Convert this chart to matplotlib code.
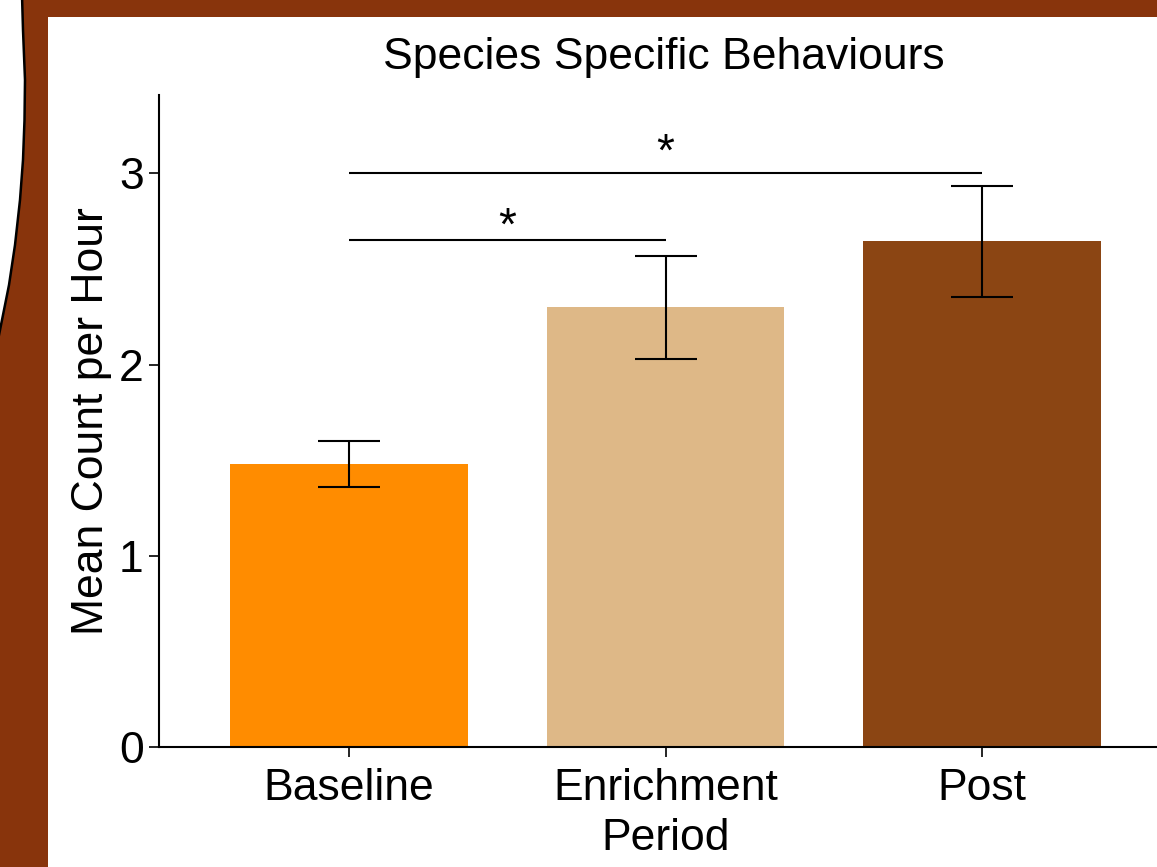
"""Bar chart of species specific behaviours across study periods"""
import matplotlib
matplotlib.use('Agg')
import matplotlib.pyplot as plt
from matplotlib.patches import Rectangle, Polygon
from matplotlib.lines import Line2D

periods = ['Baseline', 'Enrichment\nPeriod', 'Post']
means = [1.48, 2.30, 2.645]
errors = [0.12, 0.27, 0.29]
bar_colors = ['#FF8C00', '#DEB887', '#8B4513']

# significance brackets: (start bar, end bar, line height, star height)
sig_pairs = [(0, 1, 2.65, 2.60), (0, 2, 3.0, 2.99)]

W, H = 1157, 867
FRAME = '#88340c'


def px(x, y):
    """pixel coords (top-left origin) to figure fraction"""
    return x / W, 1 - y / H


def plot():
    plt.rcParams['font.family'] = ['Liberation Sans', 'DejaVu Sans']
    fig = plt.figure(figsize=(W / 100, H / 100), dpi=100, facecolor=FRAME)

    # white panel and the curved cut-out on the far left
    x0, y0 = px(48, 17)
    fig.patches.append(Rectangle((x0, 0), 1 - x0, y0, transform=fig.transFigure,
                                 facecolor='white', edgecolor='none', zorder=-2))
    curve = [(22, -5), (23, 30), (25, 80), (24.5, 120), (23, 160), (20, 200),
             (15, 245), (9, 285), (3, 315), (-2, 340)]
    edge = [px(x, y) for x, y in curve]
    fig.patches.append(Polygon([px(-5, -5)] + edge + [px(-5, 340)], closed=True,
                               transform=fig.transFigure, facecolor='white',
                               edgecolor='none', zorder=-2))
    fig.lines.append(Line2D([p[0] for p in edge], [p[1] for p in edge],
                            transform=fig.transFigure, color='black', lw=1.8,
                            zorder=-1))

    ax = fig.add_axes([159 / W, 120 / H, (1172 - 159) / W, (747 - 95) / H])
    ax.patch.set_visible(False)

    xs = range(len(periods))
    ax.bar(xs, means, width=0.75, color=bar_colors, zorder=2)
    ax.errorbar(xs, means, yerr=errors, fmt='none', ecolor='black',
                elinewidth=1.5, capsize=22.5, capthick=1.5, zorder=3)

    for a, b, h, sh in sig_pairs:
        ax.plot([a, b], [h, h], color='black', lw=1.5, solid_capstyle='butt')
        ax.text((a + b) / 2, sh, '*', ha='center', va='bottom', fontsize=33)

    ax.set_xlim(-0.6, 2.6)
    ax.set_ylim(0, 3.41)
    ax.set_yticks([0, 1, 2, 3])
    ax.set_xticks(list(xs))
    ax.set_xticklabels(periods, linespacing=1.3)

    for s in ['top', 'right']:
        ax.spines[s].set_visible(False)
    for s in ['left', 'bottom']:
        ax.spines[s].set_linewidth(1.5)
    ax.tick_params(axis='both', length=7, width=1.2, labelsize=32, pad=4)
    ax.tick_params(axis='x', pad=8)

    ax.set_ylabel('Mean Count per Hour', fontsize=32, labelpad=5)
    fig.text(664 / W, 1 - 57 / H, 'Species Specific Behaviours', ha='center',
             va='center', fontsize=32)

    fig.savefig('out.png', dpi=100, facecolor=FRAME)


if __name__ == "__main__":
    plot()
